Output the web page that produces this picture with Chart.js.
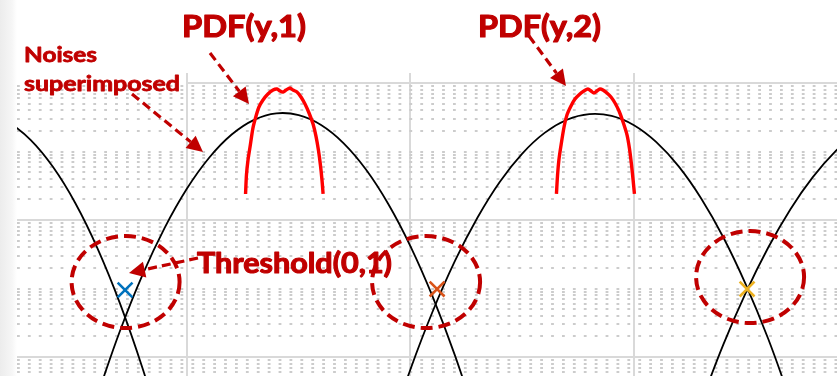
<!DOCTYPE html>
<html>
<head>
<meta charset="utf-8">
<script src="https://cdn.jsdelivr.net/npm/chart.js@4.4.1/dist/chart.umd.min.js"></script>
<style>
    html, body { margin: 0; padding: 0; }
    body { background: linear-gradient(to right, #ececec 0px, #f6f6f6 12px, #ffffff 17px); }
    #wrap { width: 837px; height: 376px; }
</style>
</head>
<body>
<div id="wrap"><canvas id="chart" width="837" height="376"></canvas></div>
<script>
// noise curves (gaussians, drawn on a log axis)
const noiseAx = [-0.9, -0.8, -0.7, -0.6, -0.5, -0.4, -0.3, -0.2, -0.1];
const noiseAy = [0.354, 0.267, 0.148, 0.0597, 0.0177, 3.83e-3, 6.07e-4, 7.03e-5, 5.97e-6];
const noiseBx = [-0.4, -0.3, -0.2, -0.1, 0.0, 0.1, 0.2, 0.3, 0.4, 0.5, 0.6, 0.7, 0.8, 0.9, 1.0, 1.1, 1.2, 1.3];
const noiseBy = [2.80e-5, 2.40e-4, 1.56e-3, 7.67e-3, 2.88e-2, 8.18e-2, 0.177, 0.290, 0.361, 0.340, 0.244, 0.133, 5.51e-2, 1.73e-2, 4.13e-3, 7.48e-4, 1.03e-4, 1.07e-5];
const noiseCx = [0.9, 1.0, 1.1, 1.2, 1.3, 1.4, 1.5, 1.6, 1.7, 1.8, 1.9, 2.0, 2.1, 2.2, 2.3, 2.4, 2.5, 2.6, 2.7];
const noiseCy = [7.31e-6, 6.64e-5, 4.69e-4, 2.57e-3, 1.09e-2, 3.63e-2, 9.33e-2, 0.187, 0.291, 0.352, 0.331, 0.242, 0.137, 6.07e-2, 2.08e-2, 5.56e-3, 1.15e-3, 1.86e-4, 2.33e-5];
const noiseDx = [2.3, 2.4, 2.5, 2.6, 2.7, 2.8, 2.9, 3.0];
const noiseDy = [2.17e-5, 1.53e-4, 8.63e-4, 3.93e-3, 1.44e-2, 4.23e-2, 9.98e-2, 0.190];

// measured pdfs
const pdf1x = [0.262, 0.266, 0.273, 0.282, 0.295, 0.309, 0.322, 0.340, 0.362, 0.385, 0.403, 0.416, 0.430, 0.443, 0.461, 0.474, 0.492, 0.510, 0.528, 0.546, 0.564, 0.577, 0.588, 0.597, 0.604, 0.609];
const pdf1y = [0.0240, 0.0454, 0.0751, 0.116, 0.220, 0.330, 0.446, 0.565, 0.691, 0.790, 0.817, 0.764, 0.739, 0.790, 0.845, 0.790, 0.739, 0.625, 0.494, 0.365, 0.252, 0.168, 0.105, 0.0635, 0.0384, 0.0240];
const pdf2x = [1.653, 1.658, 1.664, 1.673, 1.687, 1.700, 1.718, 1.736, 1.758, 1.776, 1.794, 1.808, 1.821, 1.834, 1.848, 1.861, 1.879, 1.897, 1.915, 1.933, 1.951, 1.969, 1.980, 1.989, 1.996, 2.002];
const pdf2y = [0.0240, 0.0454, 0.0751, 0.120, 0.228, 0.341, 0.462, 0.584, 0.691, 0.764, 0.817, 0.764, 0.715, 0.764, 0.817, 0.790, 0.715, 0.625, 0.511, 0.390, 0.270, 0.174, 0.109, 0.0635, 0.0384, 0.0240];

// thresholds
const thresholdX = [-0.277, 1.119, 2.506];
const thresholdY = [9.5e-4, 9.8e-4, 9.8e-4];
const thresholdColors = ["#0072BD", "#D95319", "#EDB120"];

// axes
const xMajorTicks = [0, 1, 2];
const yMajorTicks = [1e-4, 1e-2, 1];
const yDecades = [-5, -4, -3, -2, -1, 0];
const yMultipliers = [1, 2, 3, 4, 5, 6, 7, 8, 9];
const X_MIN = -0.7606, X_MAX = 2.9083;
const Y_MIN = 5.28e-5, Y_MAX = 1.40;

const RED = "#C00000";

const yTicks = [];
yDecades.forEach(e => yMultipliers.forEach(m => {
    const v = m * Math.pow(10, e);
    if (v > Y_MIN && v < Y_MAX) yTicks.push(v);
}));
function isMajorY(v) { return yMajorTicks.some(t => Math.abs(v / t - 1) < 1e-6); }

function pts(xs, ys) { return xs.map((x, i) => ({ x: x, y: ys[i] })); }

function noiseSet(xs, ys) {
    return { data: pts(xs, ys), borderColor: "#000", borderWidth: 1.8, pointRadius: 0, tension: 0.4, order: 3 };
}
function pdfSet(xs, ys) {
    return { data: pts(xs, ys), borderColor: "#ff0000", borderWidth: 3.4, pointRadius: 0, tension: 0.25, order: 2 };
}

function fitText(ctx, text, x, base, width, font, stroke) {
    ctx.font = font;
    const w = ctx.measureText(text).width;
    ctx.save();
    ctx.translate(x, base);
    ctx.scale(width / w, 1);
    ctx.fillText(text, 0, 0);
    ctx.lineWidth = stroke;
    ctx.setLineDash([]);
    ctx.lineJoin = "round";
    ctx.strokeText(text, 0, 0);
    ctx.restore();
}

function drawArrow(ctx, x1, y1, x2, y2) {
    const ang = Math.atan2(y2 - y1, x2 - x1);
    const headLen = 16, headHalf = 8;
    const bx = x2 - headLen * Math.cos(ang), by = y2 - headLen * Math.sin(ang);
    ctx.setLineDash([9, 5]);
    ctx.lineWidth = 3.2;
    ctx.beginPath(); ctx.moveTo(x1, y1); ctx.lineTo(bx, by); ctx.stroke();
    ctx.setLineDash([]);
    ctx.beginPath();
    ctx.moveTo(x2, y2);
    ctx.lineTo(bx + headHalf * Math.sin(ang), by - headHalf * Math.cos(ang));
    ctx.lineTo(bx - headHalf * Math.sin(ang), by + headHalf * Math.cos(ang));
    ctx.closePath();
    ctx.fill();
}

// ellipse offsets from each threshold marker (px)
const ellipseOffsets = [[0.5, -8], [-11, -7], [3, -12]];

const annotations = {
    id: "annotations",
    beforeDatasetsDraw(chart) {
        // the label box hides the top grid line left of the first column
        const ctx = chart.ctx;
        const left = chart.chartArea.left;
        const col = chart.scales.x.getPixelForValue(xMajorTicks[0]);
        ctx.save();
        ctx.fillStyle = "#ffffff";
        ctx.fillRect(left, chart.chartArea.top - 1, col - left - 1, 12.5);
        ctx.restore();
    },
    afterDatasetsDraw(chart) {
        const ctx = chart.ctx;
        const sx = chart.scales.x, sy = chart.scales.y;
        ctx.save();
        ctx.strokeStyle = RED;
        ctx.fillStyle = RED;

        // dashed ellipses round the thresholds
        ctx.lineWidth = 4;
        ctx.setLineDash([12, 6]);
        thresholdX.forEach((tx, i) => {
            const cx = sx.getPixelForValue(tx) + ellipseOffsets[i][0];
            const cy = sy.getPixelForValue(thresholdY[i]) + ellipseOffsets[i][1];
            ctx.beginPath();
            ctx.ellipse(cx, cy, 54, 46, 0, 0, Math.PI * 2);
            ctx.stroke();
        });

        // arrows
        drawArrow(ctx, 132, 94, 203, 152);
        drawArrow(ctx, 210, 53, 249, 104);
        drawArrow(ctx, 529, 36, 566, 86);
        drawArrow(ctx, 198, 258, 129, 273);

        // labels
        ctx.textBaseline = "alphabetic";
        fitText(ctx, "PDF(y,1)", 182, 37, 124, "bold 31px Lato", 1.2);
        fitText(ctx, "PDF(y,2)", 478, 37, 123, "bold 31px Lato", 1.2);
        fitText(ctx, "Noises", 24, 62, 73, "bold 21px Lato", 0.8);
        fitText(ctx, "superimposed", 24, 91, 156, "bold 21px Lato", 0.8);
        fitText(ctx, "Threshold(0,1)", 197, 273, 195, "bold 28px Lato", 1.1);
        ctx.restore();
    }
};

new Chart(document.getElementById("chart"), {
    type: "line",
    data: {
        datasets: [
            noiseSet(noiseAx, noiseAy),
            noiseSet(noiseBx, noiseBy),
            noiseSet(noiseCx, noiseCy),
            noiseSet(noiseDx, noiseDy),
            pdfSet(pdf1x, pdf1y),
            pdfSet(pdf2x, pdf2y),
            ...thresholdX.map((tx, i) => ({
                data: [{ x: tx, y: thresholdY[i] }],
                showLine: false,
                pointStyle: "crossRot",
                pointRadius: 10.5,
                pointBorderWidth: 2.6,
                borderColor: thresholdColors[i],
                backgroundColor: thresholdColors[i],
                order: 1
            }))
        ]
    },
    options: {
        responsive: false,
        animation: false,
        events: [],
        layout: { autoPadding: false, padding: { left: 17, top: 73, right: 0, bottom: 0 } },
        plugins: { legend: { display: false }, tooltip: { enabled: false } },
        scales: {
            x: {
                type: "linear",
                min: X_MIN,
                max: X_MAX,
                afterBuildTicks: axis => { axis.ticks = xMajorTicks.map(v => ({ value: v })); },
                ticks: { display: false },
                border: { display: false },
                grid: { drawTicks: false, color: "#d9d9d9", lineWidth: 2 }
            },
            y: {
                type: "logarithmic",
                min: Y_MIN,
                max: Y_MAX,
                afterBuildTicks: axis => { axis.ticks = yTicks.map(v => ({ value: v })); },
                ticks: { display: false },
                border: {
                    display: false,
                    dash: c => (c.tick && isMajorY(c.tick.value)) ? [] : [2.8, 8.1]
                },
                grid: {
                    drawTicks: false,
                    color: c => (c.tick && isMajorY(c.tick.value)) ? "#d9d9d9" : "#cccccc",
                    lineWidth: 2
                }
            }
        }
    },
    plugins: [annotations]
});
</script>
</body>
</html>
